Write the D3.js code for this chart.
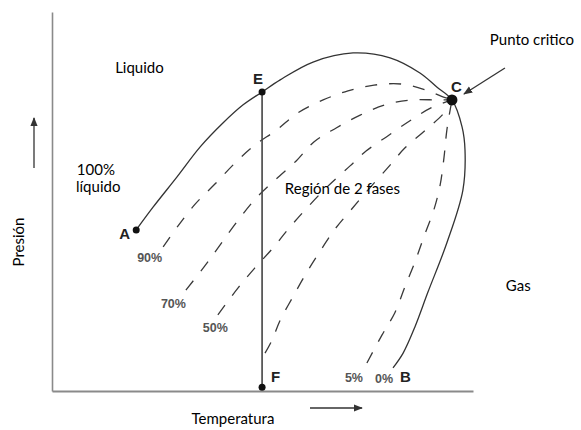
<!DOCTYPE html>
<html>
<head>
<meta charset="utf-8">
<script src="https://cdn.jsdelivr.net/npm/d3@7"></script>
<style>
  html, body { margin: 0; padding: 0; background: #fff; }
  svg { display: block; }
</style>
</head>
<body>
<script>
// ---- data (temperature, pressure in relative units 0..100) ----
const envelopeT = [20.0, 24.0, 29.7, 35.2, 40.6, 45.4, 49.9, 54.2, 62.0, 71.5, 80.3, 87.4, 91.4, 95.0, 97.4, 98.1, 97.6, 93.8, 89.3, 86.2, 83.4, 81.0];
const envelopeP = [42.5, 48.5, 56.5, 64.4, 70.7, 75.5, 78.9, 82.1, 86.8, 89.2, 87.9, 83.9, 80.2, 76.8, 69.7, 63.6, 53.0, 39.1, 26.1, 16.9, 10.0, 6.1];

const q90T = [26.4, 29.9, 34.0, 38.7, 43.7, 48.2, 53.4, 58.4, 64.4, 70.3, 76.5, 82.9, 88.8, 92.4, 95.0];
const q90P = [38.0, 43.5, 49.3, 54.6, 60.4, 64.9, 68.9, 73.4, 76.8, 79.2, 80.7, 81.0, 79.4, 77.8, 76.8];

const q70T = [31.8, 36.3, 39.9, 43.9, 48.5, 53.0, 58.0, 62.2, 67.5, 73.2, 79.1, 85.3, 91.4, 95.0];
const q70P = [26.6, 33.0, 38.5, 44.6, 50.9, 55.7, 60.7, 65.7, 69.4, 72.8, 75.5, 76.8, 76.8, 76.8];

const q50T = [39.4, 44.2, 48.2, 52.3, 56.1, 59.9, 65.3, 70.8, 74.6, 80.0, 85.3, 90.0, 95.0];
const q50P = [20.1, 27.2, 32.5, 37.5, 42.7, 47.5, 53.8, 59.4, 63.3, 67.5, 71.5, 74.7, 76.8];

const q30T = [50.6, 52.3, 54.2, 57.2, 60.3, 63.7, 67.2, 70.8, 75.5, 80.3, 83.8, 88.8, 93.3, 95.0];
const q30P = [10.0, 13.5, 18.7, 24.8, 30.9, 36.9, 42.7, 47.5, 53.6, 59.6, 64.1, 68.9, 73.6, 76.8];

const q5T = [74.8, 78.4, 81.5, 83.8, 86.2, 88.4, 90.7, 92.2, 93.1, 93.8, 95.0];
const q5P = [7.4, 14.8, 20.8, 27.4, 34.0, 40.9, 47.8, 54.4, 61.5, 68.9, 76.8];

const qualityLabels = ["90%", "70%", "50%", "", "5%"];
const pointLabels = ["A", "E", "C", "F", "B"];
const isothermT = 49.9;     // line E-F
const isothermP = [78.9, 1.0];
const criticalT = 95.0, criticalP = 76.8;
const regionLabels = ["Liquido", "100%", "líquido", "Región de 2 fases", "Gas", "Punto critico"];
const axisTitles = ["Presión", "Temperatura"];

// ---- layout ----
const W = 581, H = 430;
const x = d3.scaleLinear().domain([0, 100]).range([52, 473]);
const y = d3.scaleLinear().domain([0, 100]).range([391, 12]);

const svg = d3.select("body").append("svg").attr("width", W).attr("height", H);
svg.append("rect").attr("width", W).attr("height", H).attr("fill", "#fff");

const defs = svg.append("defs");
defs.append("marker").attr("id", "ah").attr("viewBox", "0 0 10 10")
  .attr("refX", 9).attr("refY", 5).attr("markerWidth", 7).attr("markerHeight", 7)
  .attr("orient", "auto-start-reverse")
  .append("path").attr("d", "M0,1 L10,5 L0,9 z").attr("fill", "#333");

// axes (domain lines only)
svg.append("g").attr("transform", `translate(0,${y(0)})`)
  .call(d3.axisBottom(x).ticks(0).tickSizeOuter(0))
  .call(g => g.select(".domain").attr("stroke", "#8a8a8a").attr("stroke-width", 2));
svg.append("g").attr("transform", `translate(${x(0)},0)`)
  .call(d3.axisLeft(y).ticks(0).tickSizeOuter(0))
  .call(g => g.select(".domain").attr("stroke", "#8a8a8a").attr("stroke-width", 1.6));

const line = d3.line().x(d => x(d[0])).y(d => y(d[1])).curve(d3.curveCatmullRom.alpha(0.5));
const zip = (a, b) => a.map((v, i) => [v, b[i]]);

// dashed quality lines
const qualities = [zip(q90T, q90P), zip(q70T, q70P), zip(q50T, q50P), zip(q30T, q30P), zip(q5T, q5P)];
svg.append("g").selectAll("path").data(qualities).join("path")
  .attr("d", line).attr("fill", "none").attr("stroke", "#3a3a3a")
  .attr("stroke-width", 1.3).attr("stroke-dasharray", "12,12");

// envelope (solid)
const env = zip(envelopeT, envelopeP);
svg.append("path").attr("d", line(env)).attr("fill", "none")
  .attr("stroke", "#333").attr("stroke-width", 1.3);

// isotherm E-F
svg.append("line")
  .attr("x1", x(isothermT)).attr("x2", x(isothermT))
  .attr("y1", y(isothermP[0])).attr("y2", y(isothermP[1]))
  .attr("stroke", "#444").attr("stroke-width", 1.6);

// points
const pts = [
  {t: envelopeT[0], p: envelopeP[0], r: 3.5},
  {t: isothermT, p: isothermP[0], r: 3.5},
  {t: criticalT, p: criticalP, r: 5.5},
  {t: isothermT, p: isothermP[1], r: 3.5}
];
svg.append("g").selectAll("circle").data(pts).join("circle")
  .attr("cx", d => x(d.t)).attr("cy", d => y(d.p)).attr("r", d => d.r).attr("fill", "#111");

// point letters
const letterFont = "'Liberation Sans', Arial, sans-serif";
const letterPos = [
  [x(envelopeT[0]) - 17, y(envelopeP[0]) + 9],
  [x(isothermT) - 9, y(isothermP[0]) - 8],
  [x(criticalT) - 1, y(criticalP) - 8],
  [x(isothermT) + 9, y(isothermP[1]) - 5],
  [x(envelopeT[envelopeT.length - 1]) + 7, y(envelopeP[envelopeP.length - 1]) + 14]
];
svg.append("g").selectAll("text").data(pointLabels).join("text")
  .attr("x", (d, i) => letterPos[i][0]).attr("y", (d, i) => letterPos[i][1])
  .attr("font-family", letterFont).attr("font-size", 15).attr("font-weight", "bold")
  .attr("fill", "#222").text(d => d);

// quality labels
const qOff = [[-26, 15], [-25, 18], [-15, 17], [0, 0], [-22, 19]];
svg.append("g").selectAll("text").data(qualityLabels).join("text")
  .attr("x", (d, i) => x(qualities[i][0][0]) + qOff[i][0])
  .attr("y", (d, i) => y(qualities[i][0][1]) + qOff[i][1])
  .attr("font-family", letterFont).attr("font-size", 12.5).attr("font-weight", "bold")
  .attr("fill", "#555").text(d => d);
// 0% label at end of envelope
svg.append("text")
  .attr("x", x(envelopeT[envelopeT.length - 1]) - 18)
  .attr("y", y(envelopeP[envelopeP.length - 1]) + 15)
  .attr("font-family", letterFont).attr("font-size", 12.5).attr("font-weight", "bold")
  .attr("fill", "#555").text("0%");

// region labels
const txtFont = "Lato, 'Open Sans', sans-serif";
const regionPos = [[15.0, 83.9], [5.9, 57.0], [5.7, 52.5], [55.3, 52.0], [107.8, 26.4], [104.0, 91.3]];
svg.append("g").selectAll("text").data(regionLabels).join("text")
  .attr("x", (d, i) => x(regionPos[i][0])).attr("y", (d, i) => y(regionPos[i][1]))
  .attr("font-family", txtFont).attr("font-size", 15).attr("fill", "#000").text(d => d);

// arrow to critical point
svg.append("line")
  .attr("x1", x(criticalT) + 53).attr("y1", y(criticalP) - 32)
  .attr("x2", x(criticalT) + 12).attr("y2", y(criticalP) - 6)
  .attr("stroke", "#333").attr("stroke-width", 1.3).attr("marker-end", "url(#ah)");

// axis titles and arrows
svg.append("text").attr("transform", "translate(24,242) rotate(-90)")
  .attr("text-anchor", "middle").attr("font-family", txtFont).attr("font-size", 15)
  .attr("fill", "#000").text(axisTitles[0]);
svg.append("text").attr("x", 233).attr("y", 424)
  .attr("text-anchor", "middle").attr("font-family", txtFont).attr("font-size", 15)
  .attr("fill", "#000").text(axisTitles[1]);
svg.append("line").attr("x1", 34).attr("y1", 168).attr("x2", 34).attr("y2", 118)
  .attr("stroke", "#333").attr("stroke-width", 1.3).attr("marker-end", "url(#ah)");
svg.append("line").attr("x1", 310).attr("y1", 408).attr("x2", 362).attr("y2", 408)
  .attr("stroke", "#333").attr("stroke-width", 1.3).attr("marker-end", "url(#ah)");
</script>
</body>
</html>
